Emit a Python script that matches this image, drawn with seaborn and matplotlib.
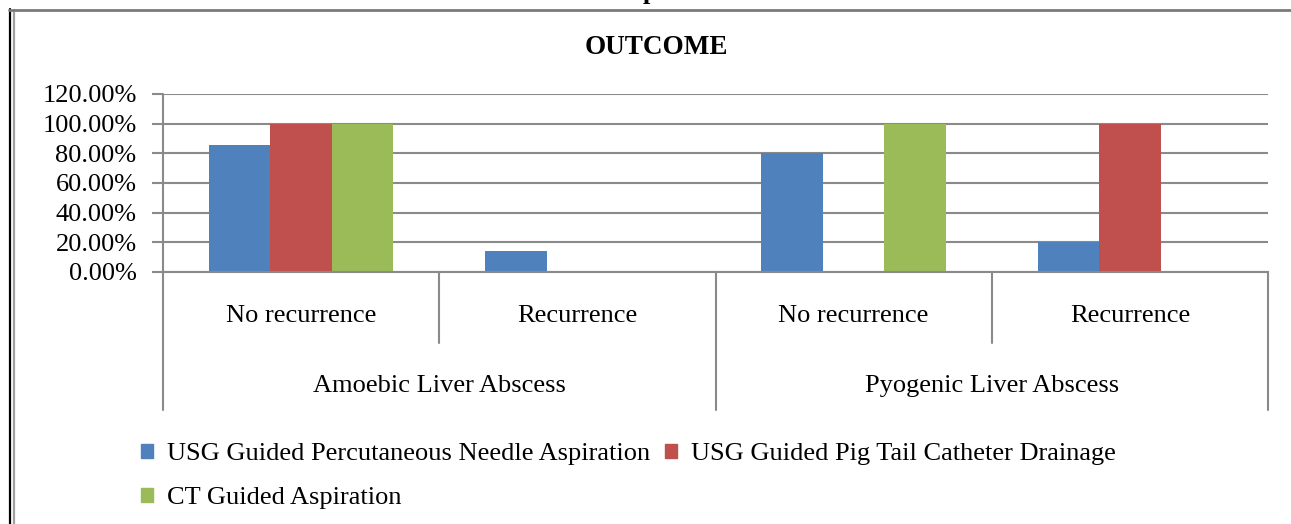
import pandas as pd
import matplotlib
matplotlib.use('Agg')
import matplotlib.pyplot as plt
import seaborn as sns
from matplotlib.ticker import PercentFormatter
from matplotlib.lines import Line2D
from matplotlib.patches import Patch

# chart data
groups = ['Amoebic Liver Abscess', 'Pyogenic Liver Abscess']
outcomes = ['No recurrence', 'Recurrence']
procedures = ['USG Guided Percutaneous Needle Aspiration',
              'USG Guided Pig Tail Catheter Drainage',
              'CT Guided Aspiration']
needle_aspiration = [0.8571, 0.1429, 0.80, 0.20]
pigtail_drainage = [1.00, 0.00, 0.00, 1.00]
ct_aspiration = [1.00, 0.00, 1.00, 0.00]
colors = ['#4F81BD', '#C0504D', '#9BBB59']

# one row per bar, category key combines group and outcome
cats = [g + '|' + o for g in groups for o in outcomes]
rows = []
for proc, vals in zip(procedures, [needle_aspiration, pigtail_drainage, ct_aspiration]):
    for c, v in zip(cats, vals):
        rows.append({'category': c, 'procedure': proc, 'value': v})
df = pd.DataFrame(rows)

sns.set_style('white')
plt.rcParams['font.family'] = ['Liberation Serif', 'DejaVu Serif']
plt.rcParams['text.color'] = 'black'

W, H = 1291, 524
fig = plt.figure(figsize=(W / 100, H / 100), dpi=100)
ax = fig.add_axes([163 / W, (H - 272) / H, (1268 - 163) / W, (272 - 94) / H])

sns.barplot(data=df, x='category', y='value', hue='procedure', order=cats,
            hue_order=procedures, palette=colors, width=0.667, linewidth=0,
            saturation=1, ax=ax, legend=False)

grey = '#8a8a8a'
ax.set_xlim(-0.5, 3.5)
ax.set_ylim(0, 1.2)
ax.set_yticks([0, 0.2, 0.4, 0.6, 0.8, 1.0, 1.2])
ax.yaxis.set_major_formatter(PercentFormatter(xmax=1, decimals=2))
ax.yaxis.grid(True, color=grey, linewidth=1.5)
ax.set_axisbelow(True)
ax.tick_params(axis='y', direction='out', length=8, width=1.5, color=grey,
               labelsize=19, labelcolor='black', pad=11, left=True)
ax.set_xticks([])
ax.set_xlabel('')
ax.set_ylabel('')
for s in ['top', 'right', 'left']:
    ax.spines[s].set_visible(False)
ax.spines['bottom'].set_color(grey)
ax.spines['bottom'].set_linewidth(1.5)

# multi-level category axis
tr = ax.get_xaxis_transform()
for x in [-0.5, 1.5, 3.5]:
    ax.add_line(Line2D([x, x], [-0.775, 1.0 if x == -0.5 else 0], transform=tr,
                       color=grey, linewidth=1.5, clip_on=False))
for x in [0.5, 2.5]:
    ax.add_line(Line2D([x, x], [-0.40, 0], transform=tr, color=grey,
                       linewidth=1.5, clip_on=False))
for i, c in enumerate(cats):
    ax.text(i, -0.247, c.split('|')[1], transform=tr, ha='center', va='center',
            fontsize=19)
for j, g in enumerate(groups):
    ax.text(0.5 + 2 * j, -0.64, g, transform=tr, ha='center', va='center',
            fontsize=19)

fig.text(656 / W, 1 - 48 / H, 'OUTCOME', ha='center', va='center',
         fontsize=19.5, fontweight='bold')
fig.text(650 / W, 1 + 1 / H, 'p', ha='center', va='baseline', fontsize=19,
         fontweight='bold')

# legend: row 1 blue + red, row 2 green
handles = [Patch(color=c, label=p) for c, p in zip(colors, procedures)]
fig.legend(handles=[handles[0], handles[2], handles[1]], ncol=2,
           loc='upper left', bbox_to_anchor=(141 / W, 1 - 443 / H),
           frameon=False, fontsize=19, handlelength=0.45, handleheight=0.45,
           handletextpad=0.55, columnspacing=0.55, labelspacing=0.85,
           borderpad=0, borderaxespad=0)

# outer frame
fig.add_artist(Line2D([9.5 / W, 9.5 / W], [0, 1 - 9 / H], color='black', linewidth=1.6))
fig.add_artist(Line2D([13.5 / W, 13.5 / W], [0, 1 - 10 / H], color='#a0a0a0', linewidth=1.6))
fig.add_artist(Line2D([9 / W, 1], [1 - 10 / H, 1 - 10 / H], color='#7a7a7a', linewidth=2))

fig.savefig('out.png', dpi=100)
